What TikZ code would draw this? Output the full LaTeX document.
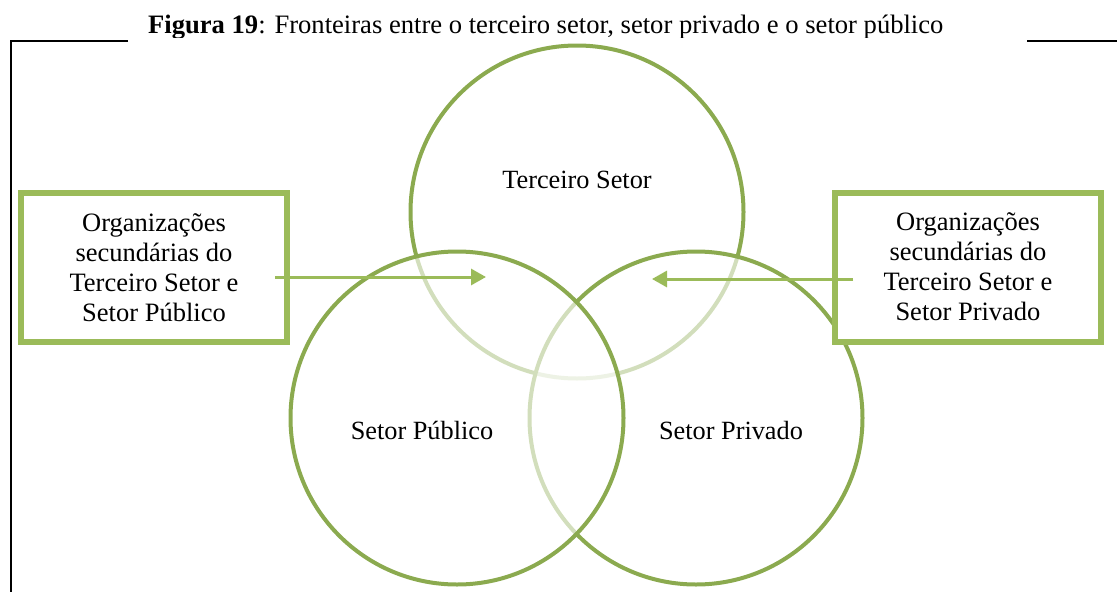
\documentclass[tikz,border=0pt]{standalone}
\usepackage{fontspec}
\setmainfont{Liberation Serif}
\usetikzlibrary{arrows.meta}
\definecolor{circgreen}{RGB}{139,170,79}
\definecolor{boxgreen}{RGB}{155,187,89}
\begin{document}
\begin{tikzpicture}[x=1pt,y=-1pt,
  venn/.style={circle, draw=circgreen, line width=4pt, fill=white, fill opacity=0.62, text opacity=1, inner sep=0pt, minimum size=333pt},
  infobox/.style={rectangle, draw=boxgreen, line width=6pt, fill=white, inner sep=0pt, minimum width=266pt, minimum height=149pt, align=center, font=\fontsize{26.5}{30}\selectfont},
  lbl/.style={font=\fontsize{26.3}{30}\selectfont, inner sep=0pt},
  arr/.style={draw=boxgreen, line width=3pt, -{Triangle[length=15pt,width=16pt]}},
  frameline/.style={line width=2.2pt, black}
]
\useasboundingbox (0,0) rectangle (1117,592);
% title (clipped at the bottom as in the reference)
\begin{scope}
  \clip (0,0) rectangle (1117,37.5);
  \node[anchor=base west, inner sep=0pt, font=\fontsize{26.6}{30}\selectfont] (title) at (148,33.5) {\textbf{Figura 19}: Fronteiras entre o terceiro setor, setor privado e o setor público};
\end{scope}
% frame lines
\coordinate (fl1) at (128,40.7);
\coordinate (fl2) at (10.7,40.7);
\coordinate (fl3) at (10.7,592);
\coordinate (fr1) at (1027,40.7);
\coordinate (fr2) at (1117,40.7);
\draw[frameline] (fl1) -- (fl2) -- (fl3);
\draw[frameline] (fr1) -- (fr2);
% circles
\node[venn] (terc) at (577,212) {};
\node[venn] (priv) at (696,418) {};
\node[venn] (publ) at (457,418) {};
% circle labels
\node[lbl] (lterc) at (577,180) {Terceiro Setor};
\node[lbl] (lpubl) at (422,430) {Setor Público};
\node[lbl] (lpriv) at (731,430) {Setor Privado};
% boxes
\node[infobox] (lbox) at (154,267.5) {Organizações\\secundárias do\\Terceiro Setor e\\Setor Público};
\node[infobox] (rbox) at (968,267) {Organizações\\secundárias do\\Terceiro Setor e\\Setor Privado};
% arrows
\coordinate (las) at (275,277);
\coordinate (lat) at (486,277);
\coordinate (ras) at (853,279);
\coordinate (rat) at (652,279);
\draw[arr] (las) -- (lat);
\draw[arr] (ras) -- (rat);
\end{tikzpicture}
\end{document}
